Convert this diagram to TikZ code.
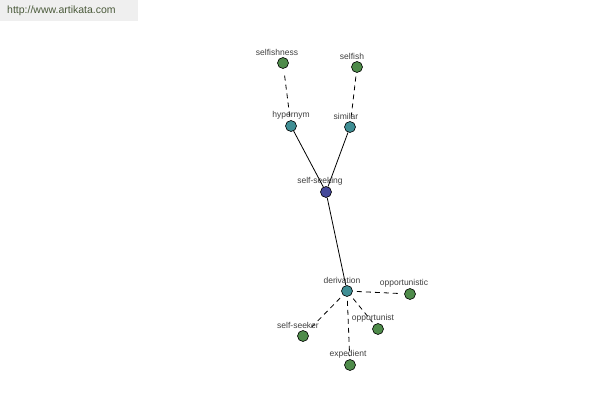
\documentclass[tikz,border=0pt]{standalone}
\usepackage{fontspec}
\setmainfont{Liberation Sans}
\usetikzlibrary{backgrounds}
\definecolor{leafg}{HTML}{4E8B4A}
\definecolor{midt}{HTML}{3F8E94}
\definecolor{rootb}{HTML}{45499A}
\definecolor{wmbg}{HTML}{EFEFEF}
\definecolor{wmtx}{HTML}{4A5A3A}
\tikzset{
  dot/.style={circle,draw=black,line width=0.6pt,minimum size=11pt,inner sep=0pt},
  leaf/.style={dot,fill=leafg},
  mid/.style={dot,fill=midt},
  root/.style={dot,fill=rootb},
  lbl/.style={font=\fontsize{8.5}{9}\selectfont,text=black!75,inner sep=0pt},
  rel/.style={line width=0.8pt,black},
  drel/.style={line width=0.8pt,black,dash pattern=on 5pt off 4pt,shorten <=4pt,shorten >=3pt}
}
\begin{document}
\begin{tikzpicture}[x=1pt,y=-1pt]
\useasboundingbox (0,0) rectangle (600,400);
% labels
\node[lbl] (t-selfishness) at (277,52) {selfishness};
\node[lbl] (t-selfish) at (352,56) {selfish};
\node[lbl] (t-hypernym) at (291,115) {hypernym};
\node[lbl] (t-similar) at (346,116) {similar};
\node[lbl] (t-selfseeking) at (320,181) {self-seeking};
\node[lbl] (t-derivation) at (342,280) {derivation};
\node[lbl] (t-opportunistic) at (404,283) {opportunistic};
\node[lbl] (t-opportunist) at (373,318) {opportunist};
\node[lbl] (t-selfseeker) at (298,325) {self-seeker};
\node[lbl] (t-expedient) at (348,354) {expedient};
% dots
\node[leaf] (selfishness) at (283,63) {};
\node[leaf] (selfish) at (357,67) {};
\node[mid] (hypernym) at (291,126) {};
\node[mid] (similar) at (350,127) {};
\node[root] (selfseeking) at (326,192) {};
\node[mid] (derivation) at (347,291) {};
\node[leaf] (opportunistic) at (410,294) {};
\node[leaf] (opportunist) at (378,329) {};
\node[leaf] (selfseeker) at (303,336) {};
\node[leaf] (expedient) at (350,365) {};
\begin{pgfonlayer}{background}
\fill[white] (0,0) rectangle (600,400);
\fill[wmbg] (0,0) rectangle (138,21);
\node[font=\fontsize{10.5}{12}\selectfont,text=wmtx,anchor=west,inner sep=0pt] (wm) at (7,11) {http://www.artikata.com};
\draw[rel] (selfseeking) -- (hypernym);
\draw[rel] (selfseeking) -- (similar);
\draw[rel] (selfseeking) -- (derivation);
\draw[drel] (hypernym) -- (selfishness);
\draw[drel] (similar) -- (selfish);
\draw[drel] (derivation) -- (opportunistic);
\draw[drel] (derivation) -- (opportunist);
\draw[drel] (derivation) -- (selfseeker);
\draw[drel] (derivation) -- (expedient);
\end{pgfonlayer}
\end{tikzpicture}
\end{document}
